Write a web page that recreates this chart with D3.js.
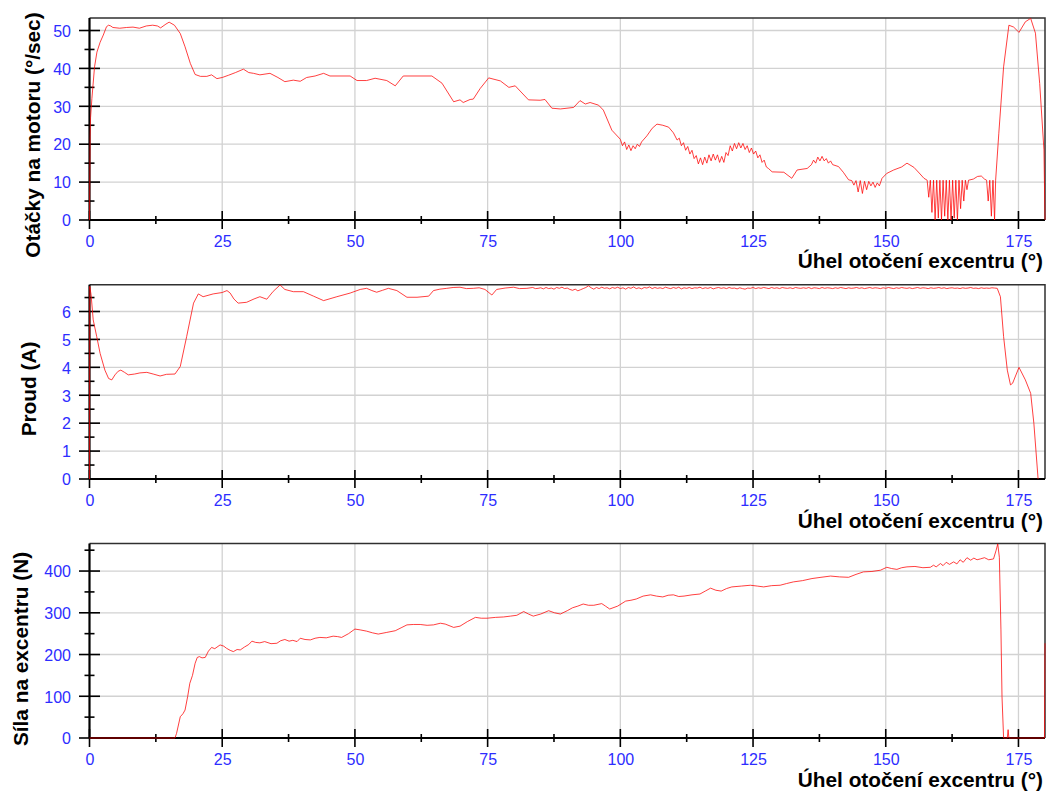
<!DOCTYPE html>
<html>
<head>
<meta charset="utf-8">
<script src="https://cdn.jsdelivr.net/npm/d3@7"></script>
<style>
  html, body { margin: 0; padding: 0; background: #fff; }
  svg { display: block; }
</style>
</head>
<body>
<svg id="chart" width="1053" height="796"></svg>
<script>
// ---- axis ticks -------------------------------------------------------
const angleTicks   = [0, 25, 50, 75, 100, 125, 150, 175];
const speedTicks   = [0, 10, 20, 30, 40, 50];
const currentTicks = [0, 1, 2, 3, 4, 5, 6];
const forceTicks   = [0, 100, 200, 300, 400];
const angleTitle   = "Úhel otočení excentru (°)";

// ---- motor speed [angle °, °/sec] ----------------------------------------
const speed = [
  [0,0],[0.05,10],[0.12,22],[0.2,27],[0.45,32],[0.95,40.4],[1.4,44.3],[2.0,46.9],[2.6,48.8],
  [3.2,51.0],[3.6,51.4],[4.0,51.2],[4.4,50.8],[5.7,50.6],[7.0,50.8],[8.2,50.9],[9.4,50.6],
  [10.7,51.2],[11.9,51.4],[12.8,51.2],[13.4,50.7],[14.4,51.7],[15.0,52.2],[16.0,51.4],
  [17.1,49.2],[18.0,45.7],[19.0,41.3],[19.9,38.4],[20.9,37.9],[22.1,37.9],[23.0,38.3],
  [24.0,37.3],[25.0,37.6],[26.2,38.2],[27.5,38.9],[29.0,39.8],[30.0,38.9],[30.9,38.7],
  [32.1,38.3],[34.0,38.7],[35.5,37.6],[36.8,36.5],[38.4,36.9],[39.7,36.6],[40.9,37.6],
  [42.5,38.0],[44.1,38.7],[45.3,38.0],[49.1,38.0],[50.4,36.8],[52.2,36.8],[53.8,37.4],
  [56.0,36.8],[57.6,35.4],[59.1,38.0],[64.5,38.0],[66.4,36.1],[68.6,31.2],[69.8,31.7],
  [70.4,31.0],[71.7,31.8],[72.3,31.9],[73.6,34.7],[75.2,37.5],[77.4,36.7],[79.0,35.0],
  [80.2,35.4],[82.7,31.7],[84.9,31.6],[85.8,31.8],[87.1,29.5],[88.7,29.3],[91.2,29.7],
  [92.4,31.5],[93.4,30.6],[94.3,31.0],[95.9,30.3],[96.8,29.0],[98.4,23.7],[100.0,21.3],
  [100.4,19.6],[100.8,20.6],[101.2,18.6],[101.6,19.8],[102.0,18.3],[102.4,19.6],[102.8,18.8],
  [103.2,20.0],[103.6,19.4],[104.0,20.6],[105.0,22.2],[106.0,24.2],[106.9,25.3],[108.0,25.0],
  [109.1,24.5],[110.0,23.0],[110.7,21.1],[111.1,21.6],[111.5,19.6],[111.9,20.4],[112.3,18.4],
  [112.7,19.4],[113.1,17.4],[113.5,18.4],[113.9,16.2],[114.3,17.0],[114.7,14.8],[115.1,16.4],
  [115.5,14.6],[115.9,16.6],[116.3,15.0],[116.7,17.2],[117.1,15.6],[117.5,17.4],[117.9,15.8],
  [118.3,17.2],[118.7,15.2],[119.1,16.8],[119.5,15.2],[119.9,17.8],[120.3,17.0],[120.7,19.6],
  [121.1,18.2],[121.5,20.2],[121.9,18.8],[122.3,20.4],[122.7,19.0],[123.1,20.2],[123.5,18.6],
  [123.9,19.6],[124.3,17.8],[124.7,19.0],[125.1,17.4],[125.5,18.2],[125.9,16.4],[126.3,17.2],
  [126.7,15.2],[127.1,15.8],[127.5,14.0],[127.9,13.6],[128.6,12.7],[130.8,12.6],[132.3,11.0],
  [133.3,13.2],[135.2,13.6],[136.0,14.6],[136.4,15.8],[136.8,15.0],[137.2,16.6],[137.6,15.6],
  [138.0,16.8],[138.4,15.6],[138.8,16.2],[139.2,15.0],[139.6,15.6],[140.0,14.6],[141.1,14.1],
  [142.0,12.6],[143.0,10.6],[143.6,10.4],[144.0,9.2],[144.4,10.4],[144.8,7.4],[145.2,10.4],
  [145.6,7.0],[146.0,10.2],[146.4,8.0],[146.8,10.2],[147.2,9.0],[147.6,10.0],[148.0,8.6],
  [148.4,9.8],[148.8,9.0],[149.3,11.0],[150.2,12.3],[151.5,13.2],[153.0,14.0],[154.0,15.0],
  [155.3,13.9],[156.3,12.4],[157.2,11.0],[157.8,10.5],[158.1,6.0],[158.4,10.5],[158.7,2.0],
  [159.0,10.5],[159.3,0.0],[159.6,10.5],[159.9,0.5],[160.2,10.5],[160.5,0.0],[160.8,10.5],
  [161.1,1.0],[161.4,10.5],[161.7,0.0],[162.0,10.5],[162.3,0.0],[162.6,10.5],[162.9,0.5],
  [163.2,10.5],[163.5,0.0],[163.8,10.5],[164.1,3.0],[164.4,10.5],[164.7,5.0],[165.0,10.5],
  [165.3,8.0],[165.6,10.5],[166.5,10.8],[167.3,11.5],[168.0,11.6],[168.6,10.8],[169.0,10.5],
  [169.3,5.0],[169.6,10.5],[169.9,1.0],[170.2,10.5],[170.5,0.0],[170.7,10.5],[171.3,22.9],
  [172.2,40.4],[173.2,51.4],[174.1,50.9],[175.1,49.5],[176.3,52.3],[177.3,53.2],[178.2,49.3],
  [179.0,36.0],[179.8,18.5],[180.0,0]
];

// ---- motor current [angle °, A] ------------------------------------------
const currentStart = [
  [0,0],[0.05,6.9],[0.3,6.6],[0.7,5.7],[1.36,5.1],[2.0,4.5],[2.9,3.9],[3.6,3.6],[4.2,3.55],
  [4.8,3.73],[5.4,3.86],[5.9,3.9],[6.6,3.82],[7.3,3.73],[8.5,3.76],[9.5,3.8],[10.8,3.82],
  [12.0,3.76],[13.3,3.69],[14.5,3.75],[16.1,3.76],[17.1,4.03],[18.3,5.1],[19.6,6.3],
  [20.5,6.63],[21.4,6.53],[23.3,6.63],[25.0,6.68],[25.9,6.75],[26.5,6.66],[27.2,6.45],
  [28.0,6.3],[29.6,6.33],[31.0,6.45],[32.1,6.53],[33.4,6.44],[34.6,6.72],[35.9,6.95],
  [36.8,6.79],[38.4,6.71],[40.3,6.71],[42.2,6.55],[44.1,6.39],[46.6,6.53],[49.1,6.66],
  [51.0,6.79],[52.2,6.83],[53.2,6.75],[54.1,6.69],[55.2,6.76],[56.3,6.83],[57.9,6.75],
  [59.8,6.51],[61.7,6.51],[63.9,6.55],[64.8,6.75],[66.0,6.80],[67.3,6.83],[68.5,6.86],
  [69.8,6.87],[71.0,6.82],[72.3,6.83],[73.4,6.85],[74.5,6.79],[75.8,6.59],[76.7,6.79],
  [78.3,6.84],[79.9,6.87],[81.0,6.82],[82.4,6.83],[83.5,6.86],[84.0,6.82]
];
// plateau samples, every 0.5° from 84.5° to 171°
const currentPlateauFrom = 84.5;
const currentPlateauStep = 0.5;
const currentPlateau = [
  6.83,6.85,6.81,6.86,6.82,6.84,6.80,6.86,6.83,6.87,
  6.82,6.84,6.79,6.76,6.80,6.74,6.78,6.82,6.86,6.92,
  6.85,6.80,6.86,6.82,6.87,6.83,6.85,6.81,6.86,6.83,
  6.87,6.82,6.85,6.80,6.86,6.83,6.88,6.82,6.85,6.81,
  6.86,6.84,6.88,6.82,6.86,6.83,6.85,6.82,6.87,6.84,
  6.82,6.86,6.83,6.87,6.81,6.85,6.83,6.86,6.82,6.85,
  6.84,6.87,6.82,6.85,6.83,6.86,6.81,6.84,6.86,6.83,
  6.85,6.82,6.86,6.83,6.84,6.81,6.85,6.82,6.80,6.84,
  6.83,6.86,6.82,6.85,6.83,6.86,6.84,6.82,6.86,6.83,
  6.85,6.82,6.86,6.84,6.83,6.85,6.82,6.86,6.84,6.83,
  6.85,6.83,6.86,6.82,6.85,6.84,6.82,6.86,6.83,6.85,
  6.84,6.82,6.85,6.83,6.86,6.84,6.82,6.85,6.83,6.84,
  6.86,6.83,6.85,6.82,6.84,6.86,6.83,6.85,6.84,6.82,
  6.85,6.83,6.86,6.84,6.82,6.85,6.83,6.86,6.84,6.83,
  6.85,6.82,6.84,6.86,6.83,6.85,6.84,6.82,6.85,6.83,
  6.84,6.86,6.83,6.85,6.82,6.84,6.85,6.83,6.84,6.82,
  6.85,6.83,6.84,6.86,6.83,6.84,6.82,6.85,6.83,6.84,
  6.83,6.85,6.84,6.83
];
const currentEnd = [
  [171.6,6.53],[172.2,5.1],[172.9,3.9],[173.5,3.37],[173.9,3.43],[175.1,4.0],[176.3,3.55],
  [177.3,3.07],[177.9,2.0],[178.7,0]
];

// ---- force on the eccentric [angle °, N] ---------------------------------
const force = [
  [0,0],[16.1,0],[16.4,11],[17.1,51],[17.6,58],[18.0,67],[18.5,100],[18.9,131],[19.4,150],
  [19.9,179],[20.3,193],[20.7,195],[21.2,192],[21.8,193],[22.4,208],[23.0,217],[23.6,214],
  [24.6,223],[25.3,220],[25.8,215],[26.5,210],[27.1,207],[27.8,212],[28.4,211],[29.2,218],
  [30.0,224],[30.6,232],[31.3,229],[32.1,228],[33.0,231],[34.2,226],[35.3,227],[36.0,233],
  [36.8,236],[37.6,232],[38.3,234],[39.1,231],[39.7,239],[40.6,236],[41.6,235],[42.5,239],
  [43.4,241],[44.6,240],[45.9,244],[46.7,243],[47.5,241],[48.8,250],[50.0,261],[51.0,259],
  [52.2,256],[53.3,252],[54.4,249],[56.0,253],[57.6,257],[58.7,264],[59.8,271],[61.0,272],
  [62.3,272],[63.6,270],[64.8,271],[66.1,275],[67.0,273],[68.6,265],[69.8,268],[71.2,279],
  [72.7,289],[73.8,287],[74.9,287],[76.5,289],[78.0,290],[79.3,292],[80.5,294],[81.8,303],
  [82.7,297],[83.6,292],[85.0,297],[86.5,305],[87.6,300],[88.7,297],[90.0,305],[91.0,312],
  [92.0,316],[93.0,321],[94.0,318],[95.0,318],[96.5,322],[97.2,316],[98.0,309],[99.5,316],
  [101.0,328],[102.0,330],[103.0,333],[104.3,340],[105.7,343],[106.8,340],[108.0,338],
  [109.0,342],[110.0,343],[111.0,339],[112.0,340],[113.5,343],[115.0,345],[116.0,352],
  [117.0,359],[118.0,354],[119.0,352],[120.0,358],[121.0,362],[122.8,364],[124.5,366],
  [125.8,364],[127.0,362],[128.5,365],[130.1,366],[131.3,370],[132.6,374],[134.3,377],
  [136.1,382],[137.8,385],[139.6,388],[141.3,386],[143.0,385],[144.4,392],[145.8,398],
  [147.4,399],[149.0,402],[150.2,409],[151.1,406],[152.1,404],[153.0,408],[154.0,410],
  [155.5,411],[157.0,408],[158.4,409],[159.0,414],[159.5,410],[160.3,418],[160.8,413],
  [161.4,421],[162.0,416],[162.8,422],[163.4,417],[164.0,427],[164.6,421],[165.3,432],
  [166.0,426],[166.6,431],[167.2,427],[167.8,429],[168.6,432],[169.4,427],[170.3,429],
  [170.8,450],[171.1,465],[171.4,433],[171.7,259],[171.9,99],[172.2,0],[172.9,0],
  [173.05,20],[173.2,0],[179.9,0],[180,227]
];

const current = currentStart
  .concat(currentPlateau.map((v, i) => [currentPlateauFrom + i * currentPlateauStep, v]))
  .concat(currentEnd);

// ---- layout --------------------------------------------------------------
const W = 1053, H = 796;
const left = 89.5, right = 1045;
const panels = [
  { title: "Otáčky na motoru (°/sec)", data: speed,   ticks: speedTicks,   minor: 5,   yMax: 53.3,
    top: 18,    bottom: 220, titleX: 40, titleY: 135, xTitleDy: 48 },
  { title: "Proud (A)",                data: current, ticks: currentTicks, minor: 0.5, yMax: 6.96,
    top: 284.7, bottom: 479, titleX: 36, titleY: 389, xTitleDy: 49 },
  { title: "Síla na excentru (N)",     data: force,   ticks: forceTicks,   minor: 50,  yMax: 466,
    top: 543.5, bottom: 738, titleX: 28, titleY: 649, xTitleDy: 49 }
];

const svg = d3.select("#chart").attr("viewBox", `0 0 ${W} ${H}`);
svg.append("rect").attr("width", W).attr("height", H).attr("fill", "#fff");

const x = d3.scaleLinear().domain([0, 180]).range([left, right]);
const xMinor = d3.range(12.5, 180, 25);

const tickFont = "'Liberation Sans', Arial, sans-serif";
const titleFont = "'Liberation Sans', Arial, sans-serif";
const blue = "#2d2dff";

panels.forEach(p => {
  const y = d3.scaleLinear().domain([0, p.yMax]).range([p.bottom, p.top]);
  const g = svg.append("g");
  const step = p.ticks[1] - p.ticks[0];
  const yMinor = d3.range(p.minor, p.yMax, step).filter(v => v < p.yMax);

  // grid
  g.append("g").selectAll("line").data(angleTicks.filter(d => d > 0)).join("line")
    .attr("x1", d => x(d)).attr("x2", d => x(d))
    .attr("y1", p.top).attr("y2", p.bottom)
    .attr("stroke", "#d2d2d2").attr("stroke-width", 1.3);
  g.append("g").selectAll("line").data(p.ticks.filter(d => d > 0)).join("line")
    .attr("x1", left).attr("x2", right)
    .attr("y1", d => y(d)).attr("y2", d => y(d))
    .attr("stroke", "#d2d2d2").attr("stroke-width", 1.3);

  // frame top / right
  g.append("path")
    .attr("d", `M${left},${p.top}H${right}V${p.bottom}`)
    .attr("fill", "none").attr("stroke", "#303030").attr("stroke-width", 1.5);

  // x axis
  const xAxis = d3.axisBottom(x).tickValues(angleTicks).tickSize(0).tickFormat(d3.format("d"));
  const ax = g.append("g").attr("transform", `translate(0,${p.bottom})`).call(xAxis);
  ax.select(".domain").remove();
  ax.selectAll("text")
    .attr("y", 26.5).attr("dy", null)
    .attr("fill", blue).attr("font-family", tickFont).attr("font-size", 16);

  // y axis
  const yAxis = d3.axisLeft(y).tickValues(p.ticks).tickSize(0).tickFormat(d3.format("d"));
  const ay = g.append("g").attr("transform", `translate(${left},0)`).call(yAxis);
  ay.select(".domain").remove();
  ay.selectAll("text")
    .attr("x", -18.5).attr("dy", "0.36em")
    .attr("fill", blue).attr("font-family", tickFont).attr("font-size", 16);

  // axis lines
  g.append("line").attr("x1", left).attr("x2", right).attr("y1", p.bottom).attr("y2", p.bottom)
    .attr("stroke", "#000").attr("stroke-width", 2.2);
  g.append("line").attr("x1", left).attr("x2", left).attr("y1", p.top).attr("y2", p.bottom)
    .attr("stroke", "#000").attr("stroke-width", 2.2);

  // tick marks
  g.append("g").selectAll("line").data(angleTicks).join("line")
    .attr("x1", d => x(d)).attr("x2", d => x(d))
    .attr("y1", p.bottom - 9).attr("y2", p.bottom + 9)
    .attr("stroke", "#000").attr("stroke-width", 1.6);
  g.append("g").selectAll("line").data(xMinor).join("line")
    .attr("x1", d => x(d)).attr("x2", d => x(d))
    .attr("y1", p.bottom - 4).attr("y2", p.bottom + 4)
    .attr("stroke", "#000").attr("stroke-width", 1.6);
  g.append("g").selectAll("line").data(p.ticks).join("line")
    .attr("x1", left - 10.5).attr("x2", left + 10.5)
    .attr("y1", d => y(d)).attr("y2", d => y(d))
    .attr("stroke", "#000").attr("stroke-width", 1.6);
  g.append("g").selectAll("line").data(yMinor).join("line")
    .attr("x1", left - 5).attr("x2", left + 5)
    .attr("y1", d => y(d)).attr("y2", d => y(d))
    .attr("stroke", "#000").attr("stroke-width", 1.6);

  // data trace
  const line = d3.line().x(d => x(d[0])).y(d => y(d[1]));
  g.append("path").datum(p.data)
    .attr("d", line)
    .attr("fill", "none")
    .attr("stroke", "#ff0000")
    .attr("stroke-opacity", 0.75)
    .attr("stroke-width", 1)
    .attr("stroke-linejoin", "round");

  // titles
  g.append("text")
    .attr("transform", `translate(${p.titleX},${p.titleY}) rotate(-90)`)
    .attr("text-anchor", "middle")
    .attr("font-family", titleFont).attr("font-weight", 700).attr("font-size", 20.8)
    .attr("fill", "#000")
    .text(p.title);
  g.append("text")
    .attr("x", 1043).attr("y", p.bottom + p.xTitleDy)
    .attr("text-anchor", "end")
    .attr("font-family", titleFont).attr("font-weight", 700).attr("font-size", 20.8)
    .attr("fill", "#000")
    .text(angleTitle);
});
</script>
</body>
</html>
